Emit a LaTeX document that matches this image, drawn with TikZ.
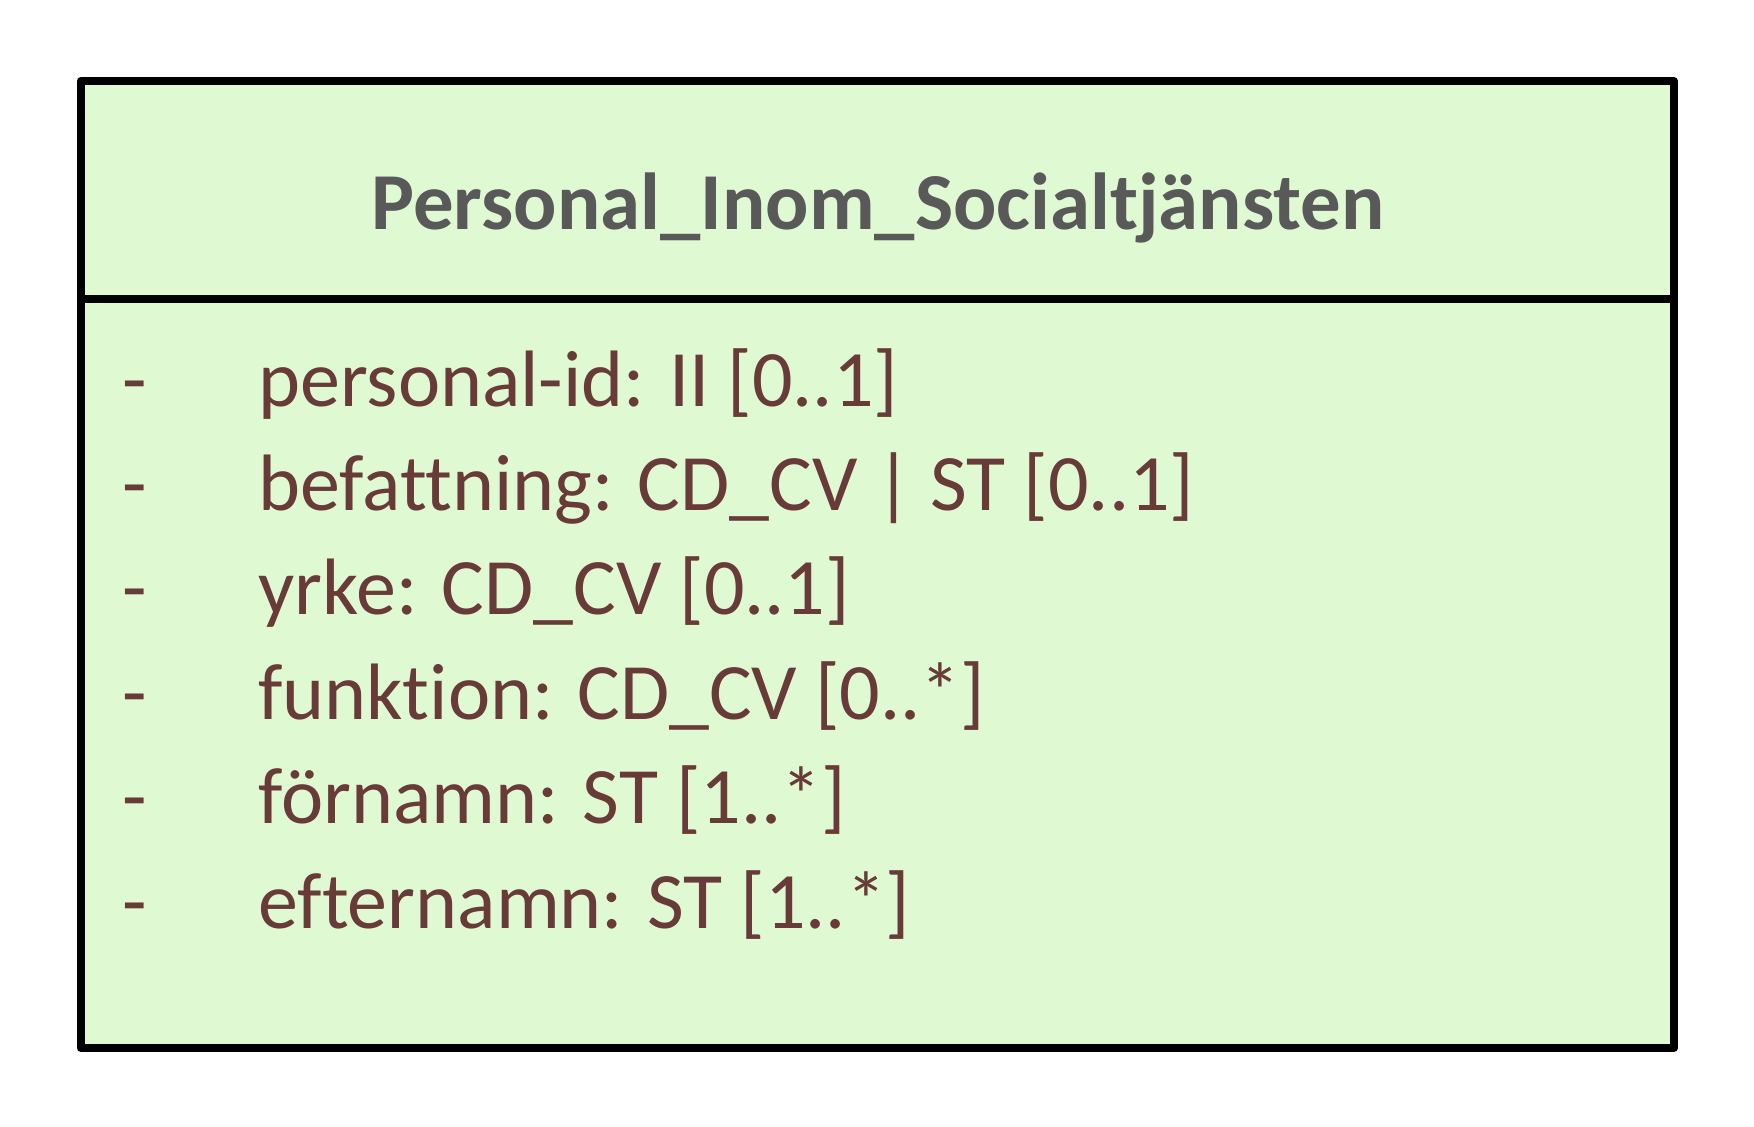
\documentclass[tikz,border=0pt]{standalone}
\usepackage{fontspec}
\setmainfont{Carlito}[Ligatures={NoCommon,NoDiscretionary,NoRare}]
\definecolor{boxfill}{RGB}{223,249,211}
\definecolor{titlegray}{RGB}{89,89,89}
\definecolor{attrbrown}{RGB}{104,58,56}
\tikzset{
  attr/.style={anchor=base west, inner sep=0pt, text=attrbrown, font=\fontsize{40}{48}\selectfont},
  titletext/.style={anchor=base, inner sep=0pt, text=titlegray, font=\bfseries\fontsize{40.4}{48}\selectfont},
  frame/.style={draw=black, line width=4pt, line join=round, fill=boxfill}
}
\begin{document}
\begin{tikzpicture}[x=0.5pt,y=-0.5pt]
\useasboundingbox (0,0) rectangle (1754,1126);
\path[frame] (80.5,81) rectangle (1674,1048);
\draw[line width=4pt] (80.5,298.5) -- (1674,298.5);
\node[titletext] (title) at (878,229) {Personal\_Inom\_Socialtjänsten};
\foreach \i/\t in {1/{personal-id: II [0..1]},2/{befattning: CD\_CV | ST [0..1]},3/{yrke: CD\_CV [0..1]},4/{funktion: CD\_CV [0..*]},5/{förnamn: ST [1..*]},6/{efternamn: ST [1..*]}}{
  \node[attr] (d\i) at (122,{406+104.4*(\i-1)}) {-};
  \node[attr] (a\i) at (258,{406+104.4*(\i-1)}) {\t};
}
\end{tikzpicture}
\end{document}
